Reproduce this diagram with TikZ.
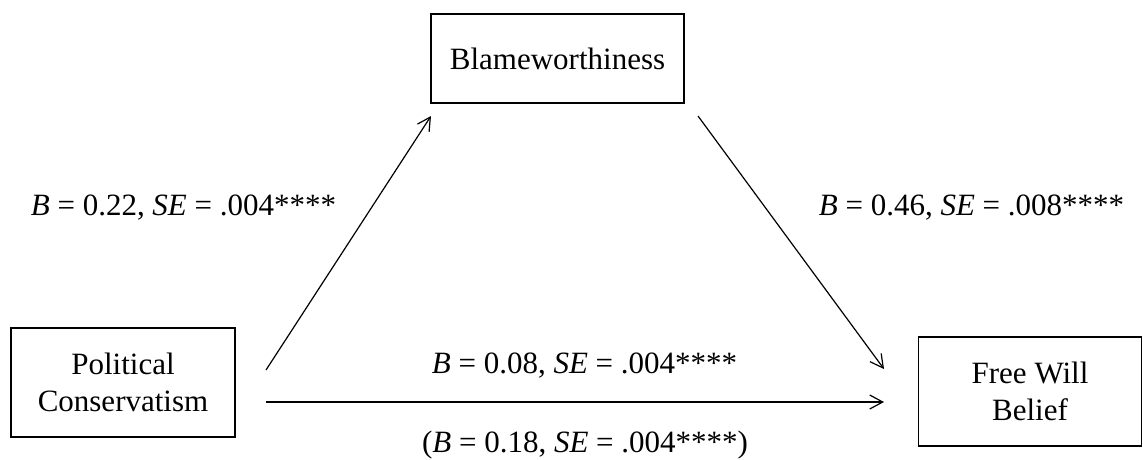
\documentclass[tikz,border=0pt]{standalone}
\usepackage{fontspec}
\setmainfont{Liberation Serif}
\usetikzlibrary{arrows.meta}
\begin{document}
\begin{tikzpicture}[x=1pt,y=-1pt,
  box/.style={draw,line width=1.4pt,rectangle,inner sep=0pt,align=center,
    font=\fontsize{31}{37}\selectfont},
  lbl/.style={anchor=base,inner sep=0pt,font=\fontsize{31}{37}\selectfont},
  conn/.style={line width=1.2pt,-{Straight Barb[length=13pt,width=14pt,line width=1.2pt]}}]
\useasboundingbox (0,0) rectangle (1143,459);
\node[box,minimum width=224pt,minimum height=109pt] (pc) at (123,382.5) {Political\\Conservatism};
\node[box,minimum width=253pt,minimum height=89pt] (bw) at (557.5,58.5) {Blameworthiness};
\node[box,minimum width=223pt,minimum height=109pt] (fw) at (1030,391.5) {Free Will\\Belief};
\coordinate (a1s) at (266,370);
\coordinate (a1e) at (431,116);
\coordinate (a2s) at (698,116);
\coordinate (a2e) at (884,369);
\coordinate (a3s) at (266,402);
\coordinate (a3e) at (884,402);
\draw[conn] (a1s) -- (a1e);
\draw[conn] (a2s) -- (a2e);
\draw[conn] (a3s) -- (a3e);
\node[lbl] (l1) at (183.5,215) {\textit{B} = 0.22, \textit{SE} = .004****};
\node[lbl] (l2) at (971.5,215) {\textit{B} = 0.46, \textit{SE} = .008****};
\node[lbl] (l3) at (584.5,373) {\textit{B} = 0.08, \textit{SE} = .004****};
\node[lbl] (l4) at (585,452) {(\textit{B} = 0.18, \textit{SE} = .004****)};
\end{tikzpicture}
\end{document}
